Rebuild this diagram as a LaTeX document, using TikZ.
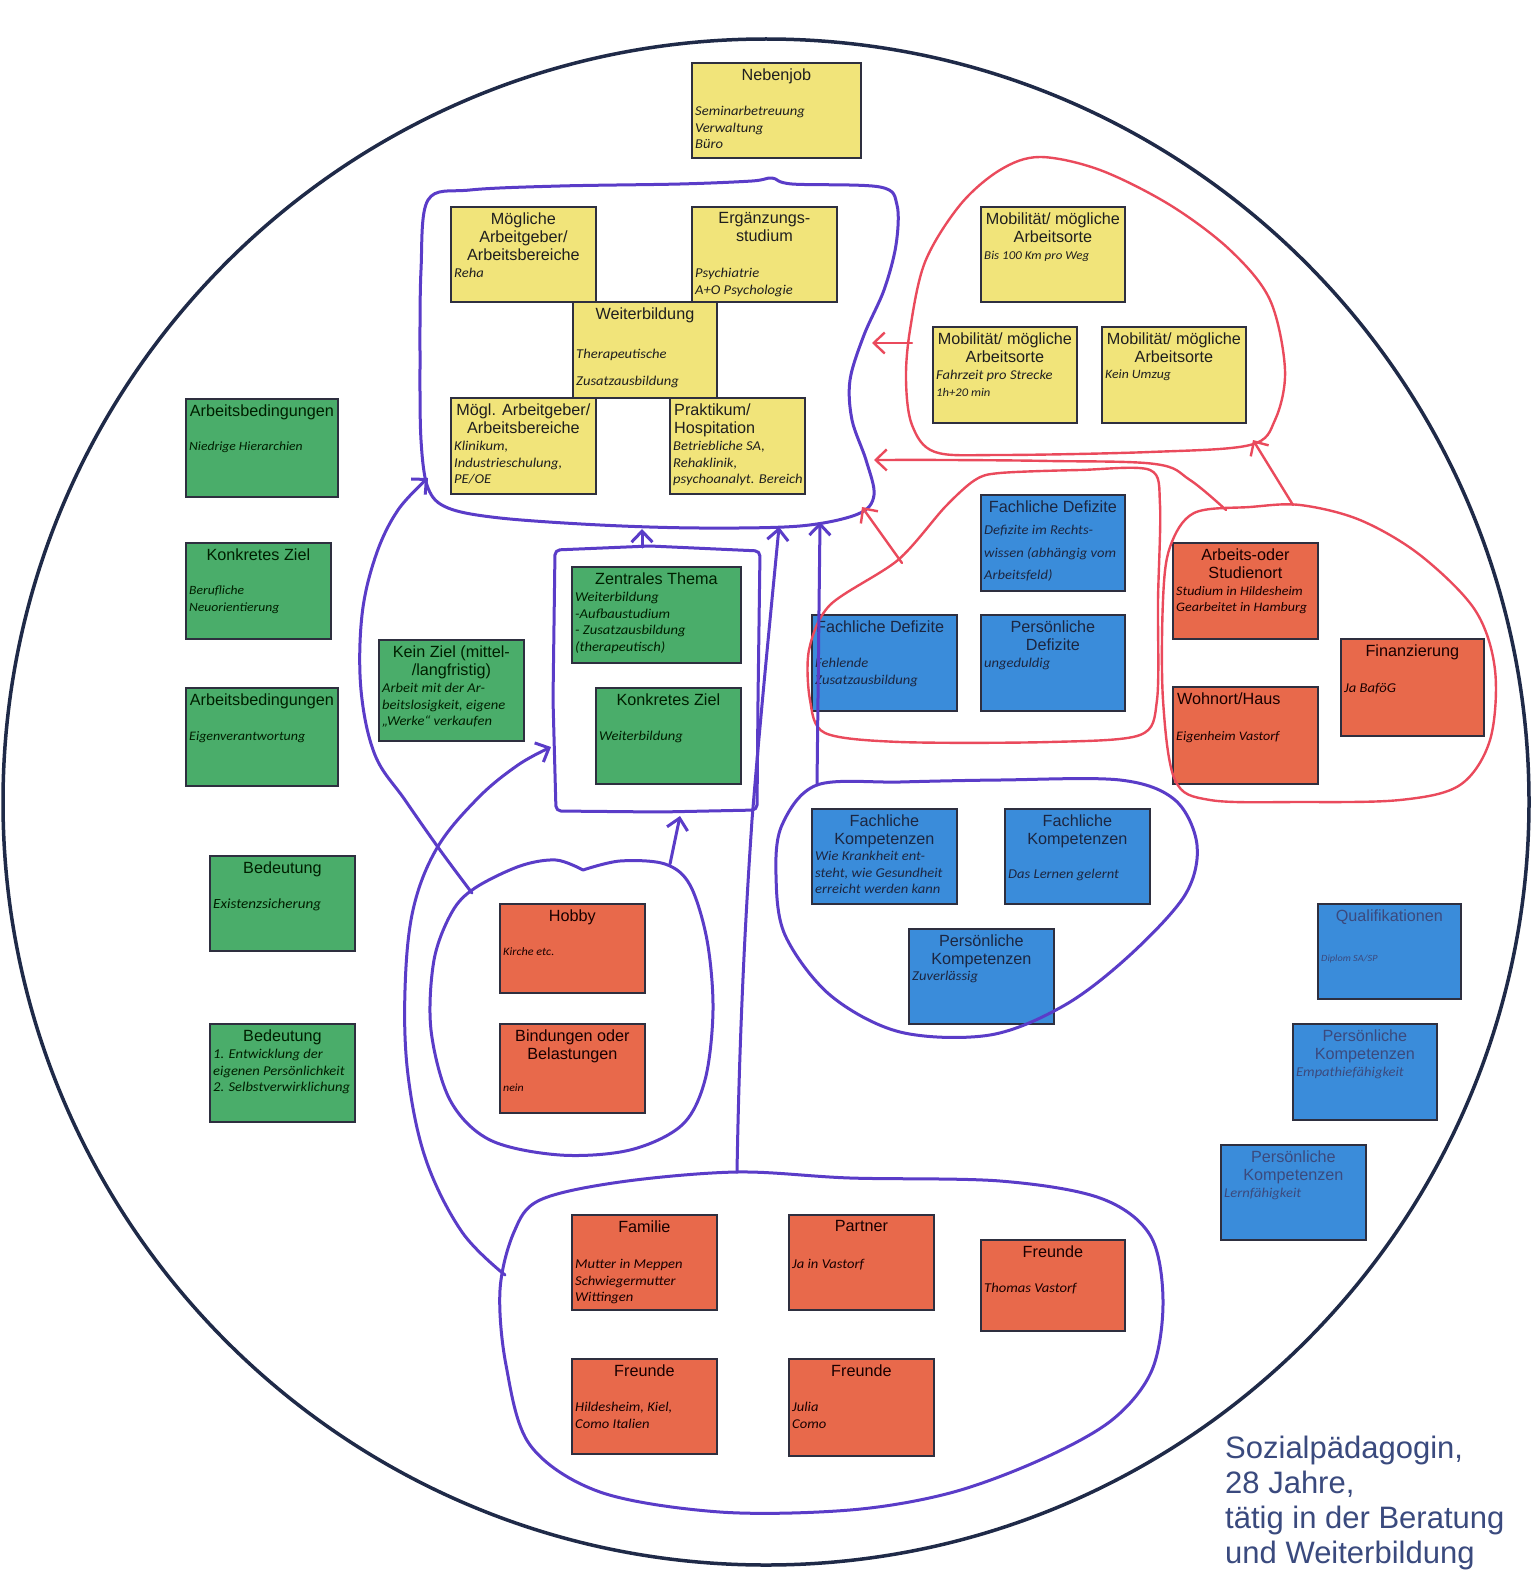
\documentclass[tikz,border=0pt]{standalone}
\usepackage{fontspec}
\setmainfont{Liberation Sans}
\newfontfamily\handfont{Carlito}[FakeStretch=1.08]
\usetikzlibrary{arrows.meta}

\definecolor{cyel}{HTML}{F1E47A}
\definecolor{cgrn}{HTML}{4AAD6A}
\definecolor{cblu}{HTML}{3A8CDA}
\definecolor{cred}{HTML}{E8694B}
\definecolor{cedge}{HTML}{2E2F3F}
\definecolor{pen}{HTML}{5A3CC8}
\definecolor{redpen}{HTML}{EA4A5C}
\definecolor{ring}{HTML}{1F2A48}
\definecolor{ctxt}{HTML}{3A4A7E}

\tikzset{
  card/.style={draw=cedge, line width=1.8pt, inner sep=0pt, anchor=north west},
  ycard/.style={card, fill=cyel},
  gcard/.style={card, fill=cgrn},
  bcard/.style={card, fill=cblu},
  rcard/.style={card, fill=cred},
  ttl/.style={font=\fontsize{16.2}{18}\selectfont, align=center, inner sep=0pt, anchor=north},
  ttlL/.style={font=\fontsize{16.2}{18}\selectfont, align=left, inner sep=0pt, anchor=north west},
  bdy/.style={font=\handfont\itshape\fontsize{13.5}{16.5}\selectfont, align=left, inner sep=0pt, anchor=north west},
  off/.style={yshift=-#1pt},
  hs/.style={font=\handfont\itshape\fontsize{#1}{16.5}\selectfont},
  penline/.style={draw=pen, line width=3pt, line join=round, line cap=round},
  redline/.style={draw=redpen, line width=2.4pt, line join=round, line cap=round},
  parrow/.style={penline, -{Straight Barb[length=11pt,width=21pt,line width=3pt]}},
  rarrow/.style={redline, -{Straight Barb[length=11pt,width=21pt,line width=2.4pt]}},
}

% card: name, x, y (top left), width, height, style, title, body options, body
\newcommand\card[9]{%
  \node[#6, minimum width=#4pt, minimum height=#5pt] (#1) at (#2,#3) {};
  \node[ttl] (#1t) at ([yshift=-6.5pt]#1.north) {#7};
  \node[bdy, #8] (#1b) at ([xshift=4pt]#1.north west) {#9};
}
% same with a left-aligned heading
\newcommand\cardL[9]{%
  \node[#6, minimum width=#4pt, minimum height=#5pt] (#1) at (#2,#3) {};
  \node[ttlL] (#1t) at ([xshift=5pt,yshift=-6.5pt]#1.north west) {#7};
  \node[bdy, #8] (#1b) at ([xshift=4pt]#1.north west) {#9};
}

\begin{document}
\begin{tikzpicture}[x=1pt,y=-1pt]
\useasboundingbox (0,0) rectangle (1531,1573);
\clip (0,0) rectangle (1531,1573);
\fill[white] (0,0) rectangle (1531,1573);

% outer ring
\draw[ring, line width=3.5pt] (766,802) circle[radius=763pt];

% ---------- yellow cards ----------
\begin{scope}[every node/.append style={text=black!88}]
\card{neben}{691}{62}{169}{95}{ycard}{Nebenjob}{off=44}{Seminarbetreuung\\Verwaltung\\Büro}
\card{arbA}{450}{206}{145}{95}{ycard}{Mögliche\\Arbeitgeber/\\Arbeitsbereiche}{off=62}{Reha}
\card{ergz}{691}{206}{145}{95}{ycard}{Ergänzungs-\\studium}{off=62}{Psychiatrie\\A+O Psychologie}
\card{weit}{572}{301}{144}{96}{ycard}{Weiterbildung}{off=48}{Therapeutische\\[10pt]Zusatzausbildung}
\card{arbB}{450}{397}{145}{96}{ycard}{Mögl. Arbeitgeber/\\Arbeitsbereiche}{off=44}{Klinikum,\\Industrieschulung,\\PE/OE}
\cardL{prak}{669}{397}{135}{96}{ycard}{Praktikum/\\Hospitation}{off=44}{Betriebliche SA,\\Rehaklinik,\\psychoanalyt. Bereich}
\card{mobA}{980}{206}{144}{95}{ycard}{Mobilität/ mögliche\\Arbeitsorte}{off=45,hs=12}{Bis 100 Km pro Weg}
\card{mobB}{932}{326}{144}{96}{ycard}{Mobilität/ mögliche\\Arbeitsorte}{off=44}{Fahrzeit pro Strecke\\\fontsize{11.7}{14}\selectfont 1h+20 min}
\card{mobC}{1101}{326}{144}{96}{ycard}{Mobilität/ mögliche\\Arbeitsorte}{off=44,hs=12.7}{Kein Umzug}
\end{scope}

% ---------- green cards ----------
\begin{scope}[every node/.append style={text=black!80!green!60!black}]
\card{abA}{185}{398}{152}{98}{gcard}{Arbeitsbedingungen}{off=44,hs=12.6}{Niedrige Hierarchien}
\card{zielA}{185}{542}{145}{96}{gcard}{Konkretes Ziel}{off=44,hs=12.6}{Berufliche\\Neuorientierung}
\card{abB}{185}{687}{152}{98}{gcard}{Arbeitsbedingungen}{off=44,hs=13}{Eigenverantwortung}
\card{bedA}{209}{855}{145}{95}{gcard}{Bedeutung}{off=44,hs=14}{Existenzsicherung}
\card{bedB}{209}{1023}{145}{98}{gcard}{Bedeutung}{off=26}{1. Entwicklung der\\eigenen Persönlichkeit\\2. Selbstverwirklichung}
\card{kein}{378}{639}{145}{101}{gcard}{Kein Ziel (mittel-\\/langfristig)}{off=44}{Arbeit mit der Ar-\\beitslosigkeit, eigene\\„Werke“ verkaufen}
\card{zent}{571}{566}{169}{96}{gcard}{Zentrales Thema}{off=26}{Weiterbildung\\-Aufbaustudium\\- Zusatzausbildung\\(therapeutisch)}
\card{zielB}{595}{687}{145}{96}{gcard}{Konkretes Ziel}{off=44}{Weiterbildung}
\end{scope}

% ---------- blue cards ----------
\begin{scope}[every node/.append style={text=ring!90!black}]
\card{defA}{980}{494}{144}{96}{bcard}{Fachliche Defizite}{off=31}{Defizite im Rechts-\\[6pt]wissen (abhängig vom\\[6pt]Arbeitsfeld)}
\cardL{defB}{811}{614}{145}{96}{bcard}{Fachliche Defizite}{off=44}{Fehlende\\Zusatzausbildung}
\card{defC}{980}{614}{144}{96}{bcard}{Persönliche\\Defizite}{off=44}{ungeduldig}
\card{komA}{811}{808}{145}{95}{bcard}{Fachliche\\Kompetenzen}{off=43}{Wie Krankheit ent-\\steht, wie Gesundheit\\erreicht werden kann}
\card{komB}{1004}{808}{145}{95}{bcard}{Fachliche\\Kompetenzen}{off=61}{Das Lernen gelernt}
\card{komC}{908}{928}{145}{95}{bcard}{Persönliche\\Kompetenzen}{off=43}{Zuverlässig}
\end{scope}
\begin{scope}[every node/.append style={text=ctxt}]
\card{qual}{1317}{903}{143}{95}{bcard}{Qualifikationen}{off=52,hs=9.5}{Diplom SA/SP}
\card{komD}{1292}{1023}{144}{96}{bcard}{Persönliche\\Kompetenzen}{off=44}{Empathiefähigkeit}
\card{komE}{1220}{1144}{145}{95}{bcard}{Persönliche\\Kompetenzen}{off=44}{Lernfähigkeit}
\end{scope}

% ---------- red cards ----------
\begin{scope}[every node/.append style={text=black!75!red!40!black}]
\card{ort}{1172}{542}{145}{96}{rcard}{Arbeits-oder\\Studienort}{off=44,hs=13}{Studium in Hildesheim\\Gearbeitet in Hamburg}
\card{fin}{1340}{638}{143}{97}{rcard}{Finanzierung}{off=45}{Ja BaföG}
\cardL{wohn}{1172}{686}{145}{97}{rcard}{Wohnort/Haus}{off=45,hs=13}{Eigenheim Vastorf}
\card{hobby}{499}{903}{145}{89}{rcard}{Hobby}{off=44,hs=11.3}{Kirche etc.}
\card{bind}{499}{1023}{145}{89}{rcard}{Bindungen oder\\Belastungen}{off=61,hs=11}{nein}
\card{fam}{571}{1214}{145}{95}{rcard}{Familie}{off=45}{Mutter in Meppen\\Schwiegermutter\\Wittingen}
\card{partner}{788}{1214}{145}{95}{rcard}{Partner}{off=45}{Ja in Vastorf}
\card{frA}{980}{1239}{144}{91}{rcard}{Freunde}{off=44}{Thomas Vastorf}
\card{frB}{571}{1358}{145}{95}{rcard}{Freunde}{off=44}{Hildesheim, Kiel,\\Como Italien}
\card{frC}{788}{1358}{145}{97}{rcard}{Freunde}{off=44}{Julia\\Como}
\end{scope}

% ---------- hand-drawn purple groupings ----------
\draw[penline] plot[smooth cycle, tension=0.55] coordinates {
  (428,200) (470,190) (560,186) (680,184) (752,181) (772,178) (792,184) (880,187)
  (897,205) (896,245) (884,290) (864,335) (850,380) (852,420) (866,460) (874,495)
  (858,514) (800,526) (700,528) (600,525) (500,518) (448,508) (428,488) (421,440)
  (420,360) (421,270)};
\draw[penline, rounded corners=5pt] (555,550) -- (650,546) -- (760,551) -- (758,700)
  -- (757,810) -- (660,812) -- (556,811) -- (553,700) -- cycle;
\draw[penline] plot[smooth, tension=0.55] coordinates {
  (583,870) (620,861) (665,864) (690,885) (707,940) (713,1010) (705,1080) (682,1125)
  (630,1150) (560,1155) (490,1140) (450,1100) (431,1030) (434,960) (452,912) (475,888)
  (520,866) (556,860) (583,870)};
\draw[penline] plot[smooth cycle, tension=0.55] coordinates {
  (817,785) (900,782) (1000,780) (1120,780) (1175,800) (1197,845) (1185,895) (1130,955)
  (1065,1005) (990,1035) (900,1032) (830,995) (785,935) (776,875) (782,825)};
\draw[penline] plot[smooth cycle, tension=0.55] coordinates {
  (540,1200) (620,1182) (737,1172) (850,1178) (1000,1181) (1100,1198) (1150,1235)
  (1163,1300) (1152,1370) (1112,1420) (1040,1460) (950,1493) (850,1510) (720,1512)
  (600,1492) (530,1445) (506,1365) (500,1290) (514,1232)};

% ---------- hand-drawn red groupings ----------
\draw[redline] plot[smooth cycle, tension=0.55] coordinates {
  (910,330) (925,262) (960,205) (1000,170) (1040,157) (1100,170) (1170,205) (1230,250)
  (1270,300) (1285,370) (1275,420) (1250,445) (1150,452) (1000,455) (935,452)
  (912,425) (906,380)};
\draw[redline] plot[smooth cycle, tension=0.5] coordinates {
  (975,480) (1000,473) (1080,470) (1150,470) (1160,505) (1158,600) (1157,700)
  (1140,735) (1050,742) (900,742) (825,733) (810,700) (809,650) (830,605) (898,560)
  (945,507)};
\draw[redline] plot[smooth cycle, tension=0.55] coordinates {
  (1170,547) (1194,513) (1250,507) (1300,505) (1360,520) (1420,555) (1475,610)
  (1495,670) (1490,740) (1460,785) (1400,800) (1300,802) (1210,800) (1175,780)
  (1163,700) (1163,600)};

% ---------- connectors ----------
\coordinate (zentTop) at (642,547);
\coordinate (blobBot) at (642,529);
\coordinate (hobR) at (670,864);
\coordinate (zentBot) at (680,816);
\coordinate (komTop) at (817,785);
\coordinate (blobBotR) at (820,522);
\coordinate (mobL) at (912,343);
\coordinate (blobR) at (872,343);
\coordinate (defTop) at (902,563);
\coordinate (blobR2) at (862,507);
\coordinate (ortTop) at (1293,505);
\coordinate (mobBot) at (1253,440);
\coordinate (famTop) at (737,1172);
\coordinate (blobBotM) at (779,527);

\draw[parrow] (zentTop) -- (blobBot);
\draw[parrow] (hobR) -- (zentBot);
\draw[parrow] (komTop) -- (blobBotR);
\draw[parrow] plot[smooth, tension=0.6] coordinates {(472,893) (440,850) (405,800)
  (375,755) (361,690) (362,615) (376,555) (398,510) (428,478)};
\draw[parrow] plot[smooth, tension=0.6] coordinates {(505,1275) (462,1232) (426,1160)
  (408,1075) (405,990) (413,910) (437,848) (478,798) (518,765) (551,747)};
\draw[parrow] (famTop) .. controls (740,1000) and (748,880) .. (752,820)
  .. controls (760,720) and (772,600) .. (blobBotM);

\draw[rarrow] (mobL) -- (blobR);
\draw[rarrow] (defTop) -- (blobR2);
\draw[rarrow] (ortTop) -- (mobBot);
\draw[rarrow] plot[smooth, tension=0.6] coordinates {(1226,510) (1190,480) (1155,464)
  (1050,461) (950,460) (874,460)};

% ---------- caption ----------
\node[anchor=north west, align=left, inner sep=0pt, text=ctxt,
      font=\fontsize{31}{35}\selectfont] (who) at (1225,1436)
  {Sozialpädagogin,\\28 Jahre,\\tätig in der Beratung\\und Weiterbildung};
\end{tikzpicture}
\end{document}
